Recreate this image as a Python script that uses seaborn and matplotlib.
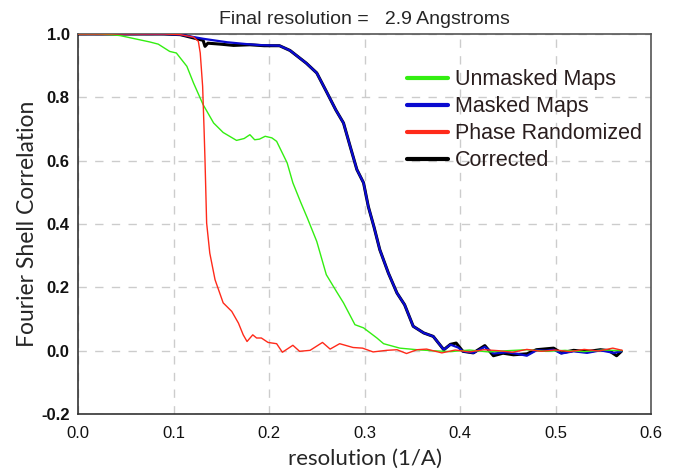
import numpy as np
import pandas as pd
import matplotlib
matplotlib.use("Agg")
import matplotlib.pyplot as plt
import seaborn as sns
from matplotlib import font_manager

# ---- data ----
unmasked_x = [0, 0.02, 0.035, 0.044, 0.061, 0.075, 0.084, 0.096, 0.103, 0.114, 0.121, 0.131, 0.142,
              0.152, 0.166, 0.174, 0.180, 0.185, 0.190, 0.196, 0.203, 0.208, 0.219, 0.225, 0.233, 0.240,
              0.25, 0.26, 0.27, 0.278, 0.29, 0.299, 0.313, 0.32, 0.337, 0.355, 0.37, 0.39, 0.41, 0.43,
              0.45, 0.47, 0.49, 0.51, 0.53, 0.55, 0.57]
unmasked_y = [1.0, 1.0, 0.998, 0.995, 0.984, 0.975, 0.968, 0.945, 0.94, 0.898, 0.845, 0.777, 0.719,
              0.689, 0.664, 0.67, 0.682, 0.666, 0.668, 0.677, 0.672, 0.661, 0.593, 0.53, 0.47, 0.42,
              0.345, 0.24, 0.19, 0.151, 0.082, 0.072, 0.04, 0.022, 0.008, 0.003, 0.0, -0.003, 0.002, -0.004,
              0.0, 0.003, -0.002, 0.001, -0.003, 0.002, 0.0]

phase_x = [0, 0.05, 0.09, 0.107, 0.121, 0.126, 0.128, 0.1305, 0.132, 0.133, 0.1347, 0.138, 0.1435,
           0.152, 0.161, 0.168, 0.173, 0.177, 0.183, 0.187, 0.192, 0.199, 0.208, 0.214, 0.225, 0.232,
           0.243, 0.256, 0.264, 0.274, 0.288, 0.298, 0.309, 0.323, 0.334, 0.344, 0.355, 0.365, 0.381,
           0.395, 0.41, 0.425, 0.44, 0.455, 0.47, 0.485, 0.50, 0.515, 0.53, 0.545, 0.56, 0.57]
phase_y = [1.0, 1.0, 1.0, 0.998, 0.99, 0.977, 0.94, 0.835, 0.70, 0.60, 0.403, 0.308, 0.224,
           0.151, 0.124, 0.087, 0.05, 0.029, 0.05, 0.04, 0.04, 0.026, 0.022, -0.005, 0.017, -0.002,
           0.001, 0.026, 0.005, 0.022, 0.01, 0.008, -0.004, 0.001, 0.003, -0.009, 0.003, 0.005, -0.007,
           0.002, -0.004, 0.003, 0.0, -0.005, 0.004, -0.002, 0.002, -0.003, 0.004, -0.001, 0.008, 0.001]

masked_x = [0, 0.05, 0.09, 0.107, 0.131, 0.156, 0.177, 0.19, 0.211, 0.222, 0.239, 0.25, 0.26, 0.27,
            0.278, 0.285, 0.292, 0.299, 0.304, 0.31, 0.316, 0.325, 0.334, 0.342, 0.351, 0.362, 0.372,
            0.383, 0.39, 0.398, 0.403, 0.414, 0.426, 0.435, 0.449, 0.46, 0.470, 0.480, 0.49, 0.498,
            0.506, 0.519, 0.533, 0.547, 0.561, 0.569]
masked_y = [1.0, 1.0, 1.0, 0.998, 0.985, 0.974, 0.968, 0.965, 0.963, 0.948, 0.908, 0.877, 0.819, 0.76,
            0.719, 0.645, 0.572, 0.53, 0.455, 0.39, 0.319, 0.245, 0.182, 0.145, 0.077, 0.056, 0.045,
            0.003, 0.019, 0.01, -0.002, -0.007, 0.012, -0.009, -0.005, -0.01, -0.016, 0.001, 0.0, 0.003,
            -0.009, -0.002, -0.007, 0.001, -0.007, -0.002]

corrected_x = [0, 0.05, 0.09, 0.107, 0.131, 0.133, 0.136, 0.149, 0.163, 0.18, 0.195, 0.211, 0.222,
               0.239, 0.25, 0.26, 0.27, 0.278, 0.285, 0.292, 0.299, 0.304, 0.31, 0.316, 0.325, 0.334,
               0.342, 0.351, 0.362, 0.372, 0.383, 0.39, 0.396, 0.403, 0.414, 0.426, 0.435, 0.445, 0.456,
               0.47, 0.48, 0.498, 0.506, 0.519, 0.533, 0.547, 0.556, 0.564, 0.569]
corrected_y = [1.0, 1.0, 1.0, 0.998, 0.98, 0.961, 0.971, 0.968, 0.964, 0.966, 0.963, 0.963, 0.948,
               0.908, 0.877, 0.819, 0.76, 0.719, 0.645, 0.572, 0.53, 0.455, 0.39, 0.319, 0.245, 0.182,
               0.145, 0.077, 0.056, 0.045, 0.003, 0.02, 0.024, -0.002, -0.007, 0.016, -0.016, -0.008, -0.013,
               -0.01, 0.003, 0.008, -0.007, 0.001, -0.003, 0.003, 0.0, -0.016, -0.002]

labels = ["Unmasked Maps", "Masked Maps", "Phase Randomized", "Corrected"]
colors = {"Unmasked Maps": "#33ee11", "Masked Maps": "#0a0ad0",
          "Phase Randomized": "#ff2a1a", "Corrected": "#000000"}
xticks = [0.0, 0.1, 0.2, 0.3, 0.4, 0.5, 0.6]
yticks = [-0.2, 0.0, 0.2, 0.4, 0.6, 0.8, 1.0]

frames = []
for name, xs, ys in [("Unmasked Maps", unmasked_x, unmasked_y),
                     ("Masked Maps", masked_x, masked_y),
                     ("Phase Randomized", phase_x, phase_y),
                     ("Corrected", corrected_x, corrected_y)]:
    frames.append(pd.DataFrame({"res": xs, "fsc": ys, "curve": name}))
df = pd.concat(frames, ignore_index=True)

sns.set_style("white")
plt.rcParams['font.family'] = ['Liberation Sans', 'DejaVu Sans']

installed = {f.name for f in font_manager.fontManager.ttflist}
narrow_name = 'Liberation Sans Narrow' if 'Liberation Sans Narrow' in installed else 'Liberation Sans'
narrow = [narrow_name, 'DejaVu Sans']

fig = plt.figure(figsize=(6.74, 4.70), dpi=100)
ax = fig.add_axes([78/674, 1 - 414/470, (651-78)/674, (414-34)/470])

widths = {"Unmasked Maps": 1.0, "Masked Maps": 1.6, "Phase Randomized": 1.0, "Corrected": 2.2}
order = ["Corrected", "Masked Maps", "Unmasked Maps", "Phase Randomized"]
for name in order:
    sub = df[df["curve"] == name]
    sns.lineplot(data=sub, x="res", y="fsc", ax=ax, color=colors[name],
                 linewidth=widths[name], sort=False, estimator=None, zorder=3)

ax.set_xlim(0, 0.6)
ax.set_ylim(-0.2, 1.0)
ax.set_xticks(xticks)
ax.set_yticks(yticks)
ax.set_xticklabels([f"{v:.1f}" for v in xticks])
ax.set_yticklabels([f"{v:.1f}" for v in yticks])

for t in ax.get_xticklabels():
    t.set_family(narrow); t.set_fontsize(12); t.set_color('#111111')
for t in ax.get_yticklabels():
    t.set_family(narrow); t.set_fontsize(12); t.set_fontweight('bold'); t.set_color('#111111')

ax.tick_params(axis='x', direction='in', length=4, width=1, color='#444444', pad=9)
ax.tick_params(axis='y', direction='out', length=4, width=1, color='#444444', pad=2)

ax.grid(True, linestyle=(0, (6, 6)), color='#cccccc', linewidth=1)
ax.set_axisbelow(True)
for side in ['left', 'bottom']:
    ax.spines[side].set_color('#333333'); ax.spines[side].set_linewidth(1.2)
for side in ['top', 'right']:
    ax.spines[side].set_color('#555555'); ax.spines[side].set_linewidth(1.2)

ax.set_xlabel("resolution (1/A)", fontsize=16, family=['Lato', 'DejaVu Sans'], labelpad=5)
ax.set_ylabel("Fourier Shell Correlation", fontsize=16.5, family=['Lato', 'DejaVu Sans'], labelpad=2)
ax.set_title("Final resolution =   2.9 Angstroms", fontsize=14, pad=7)

from matplotlib.lines import Line2D
handles = [Line2D([], [], color=colors[n], linewidth=3) for n in labels]
leg = ax.legend(handles, labels, loc='upper left', bbox_to_anchor=(0.56, 0.93),
                frameon=False, fontsize=15.5, handlelength=1.9, handletextpad=0.3,
                labelspacing=0.28, borderaxespad=0)
for t in leg.get_texts():
    t.set_color('#2a1e1e')

fig.savefig("out.png", dpi=100)
